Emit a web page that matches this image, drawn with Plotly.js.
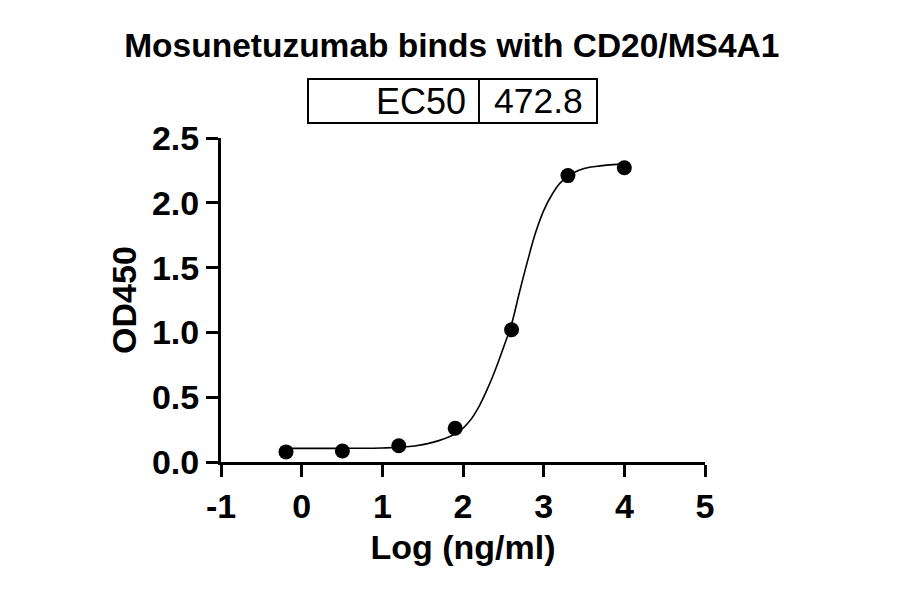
<!DOCTYPE html>
<html>
<head>
<meta charset="utf-8">
<script src="https://cdn.plot.ly/plotly-3.0.1.min.js"></script>
<style>
  body { margin: 0; background: #fff; }
  #chart { width: 900px; height: 594px; }
</style>
</head>
<body>
<div id="chart"></div>
<script>
// measured points (log concentration, OD450)
var logConc = [-0.194, 0.505, 1.204, 1.903, 2.602, 3.301, 4.0];
var od450 = [0.078, 0.085, 0.125, 0.26, 1.02, 2.21, 2.27];

// fitted curve
var fitX = [-0.2, 0.2, 0.6, 1.0, 1.4, 1.7, 1.95, 2.1, 2.2, 2.3, 2.4, 2.5, 2.6,
            2.7, 2.8, 2.9, 3.0, 3.1, 3.2, 3.35, 3.5, 3.7, 4.0];
var fitY = [0.105, 0.105, 0.106, 0.108, 0.124, 0.165, 0.235, 0.33, 0.43, 0.56, 0.71, 0.88, 1.06,
            1.31, 1.55, 1.77, 1.94, 2.06, 2.15, 2.225, 2.265, 2.285, 2.30];

// tick labels
var xTicks = [-1, 0, 1, 2, 3, 4, 5];
var xTickText = ["-1", "0", "1", "2", "3", "4", "5"];
var yTicks = [0, 0.5, 1, 1.5, 2, 2.5];
var yTickText = ["0.0", "0.5", "1.0", "1.5", "2.0", "2.5"];

var ec50Label = "EC50";
var ec50Value = "472.8";

var fontName = "Liberation Sans, Arial, sans-serif";

var fit = {
  x: fitX,
  y: fitY,
  mode: "lines",
  type: "scatter",
  line: { color: "#000", width: 1.6, shape: "spline" },
  hoverinfo: "skip"
};

var pts = {
  x: logConc,
  y: od450,
  mode: "markers",
  type: "scatter",
  marker: { color: "#000", size: 15 },
  cliponaxis: false
};

var layout = {
  width: 900,
  height: 594,
  margin: { l: 221, r: 195, t: 138, b: 132 },
  paper_bgcolor: "#fff",
  plot_bgcolor: "#fff",
  showlegend: false,
  title: {
    text: "Mosunetuzumab binds with CD20/MS4A1",
    font: { family: fontName, size: 33.5, weight: "bold", color: "#000" },
    x: 0.502,
    xanchor: "center",
    y: 0.924,
    yanchor: "middle"
  },
  xaxis: {
    range: [-1, 5],
    tickvals: xTicks,
    ticktext: xTickText,
    showgrid: false,
    zeroline: false,
    showline: true,
    linecolor: "#000",
    linewidth: 3,
    ticks: "outside",
    ticklen: 12,
    tickwidth: 3,
    tickcolor: "#000",
    tickfont: { family: fontName, size: 34, weight: "bold", color: "#000" },
    title: {
      text: "Log (ng/ml)",
      font: { family: fontName, size: 34, weight: "bold", color: "#000" },
      standoff: 12
    }
  },
  yaxis: {
    range: [0, 2.5],
    tickvals: yTicks,
    ticktext: yTickText,
    showgrid: false,
    zeroline: false,
    showline: true,
    linecolor: "#000",
    linewidth: 3,
    ticks: "outside",
    ticklen: 12,
    tickwidth: 3,
    tickcolor: "#000",
    tickfont: { family: fontName, size: 34, weight: "bold", color: "#000" },
    title: {
      text: "OD450",
      font: { family: fontName, size: 34, weight: "bold", color: "#000" },
      standoff: 6
    }
  },
  shapes: [
    { type: "rect", xref: "paper", yref: "paper", x0: 0.1798, x1: 0.7769, y0: 1.0463, y1: 1.182,
      line: { color: "#000", width: 2 } },
    { type: "line", xref: "paper", yref: "paper", x0: 0.533, x1: 0.533, y0: 1.0463, y1: 1.182,
      line: { color: "#000", width: 2 } }
  ],
  annotations: [
    { text: ec50Label, xref: "paper", yref: "paper", x: 0.510, y: 1.114, xanchor: "right", yanchor: "middle",
      showarrow: false, font: { family: fontName, size: 36, color: "#000" } },
    { text: ec50Value, xref: "paper", yref: "paper", x: 0.560, y: 1.114, xanchor: "left", yanchor: "middle",
      showarrow: false, font: { family: fontName, size: 35.5, color: "#000" } }
  ]
};

Plotly.newPlot("chart", [fit, pts], layout, { displayModeBar: false, staticPlot: true });
</script>
</body>
</html>
